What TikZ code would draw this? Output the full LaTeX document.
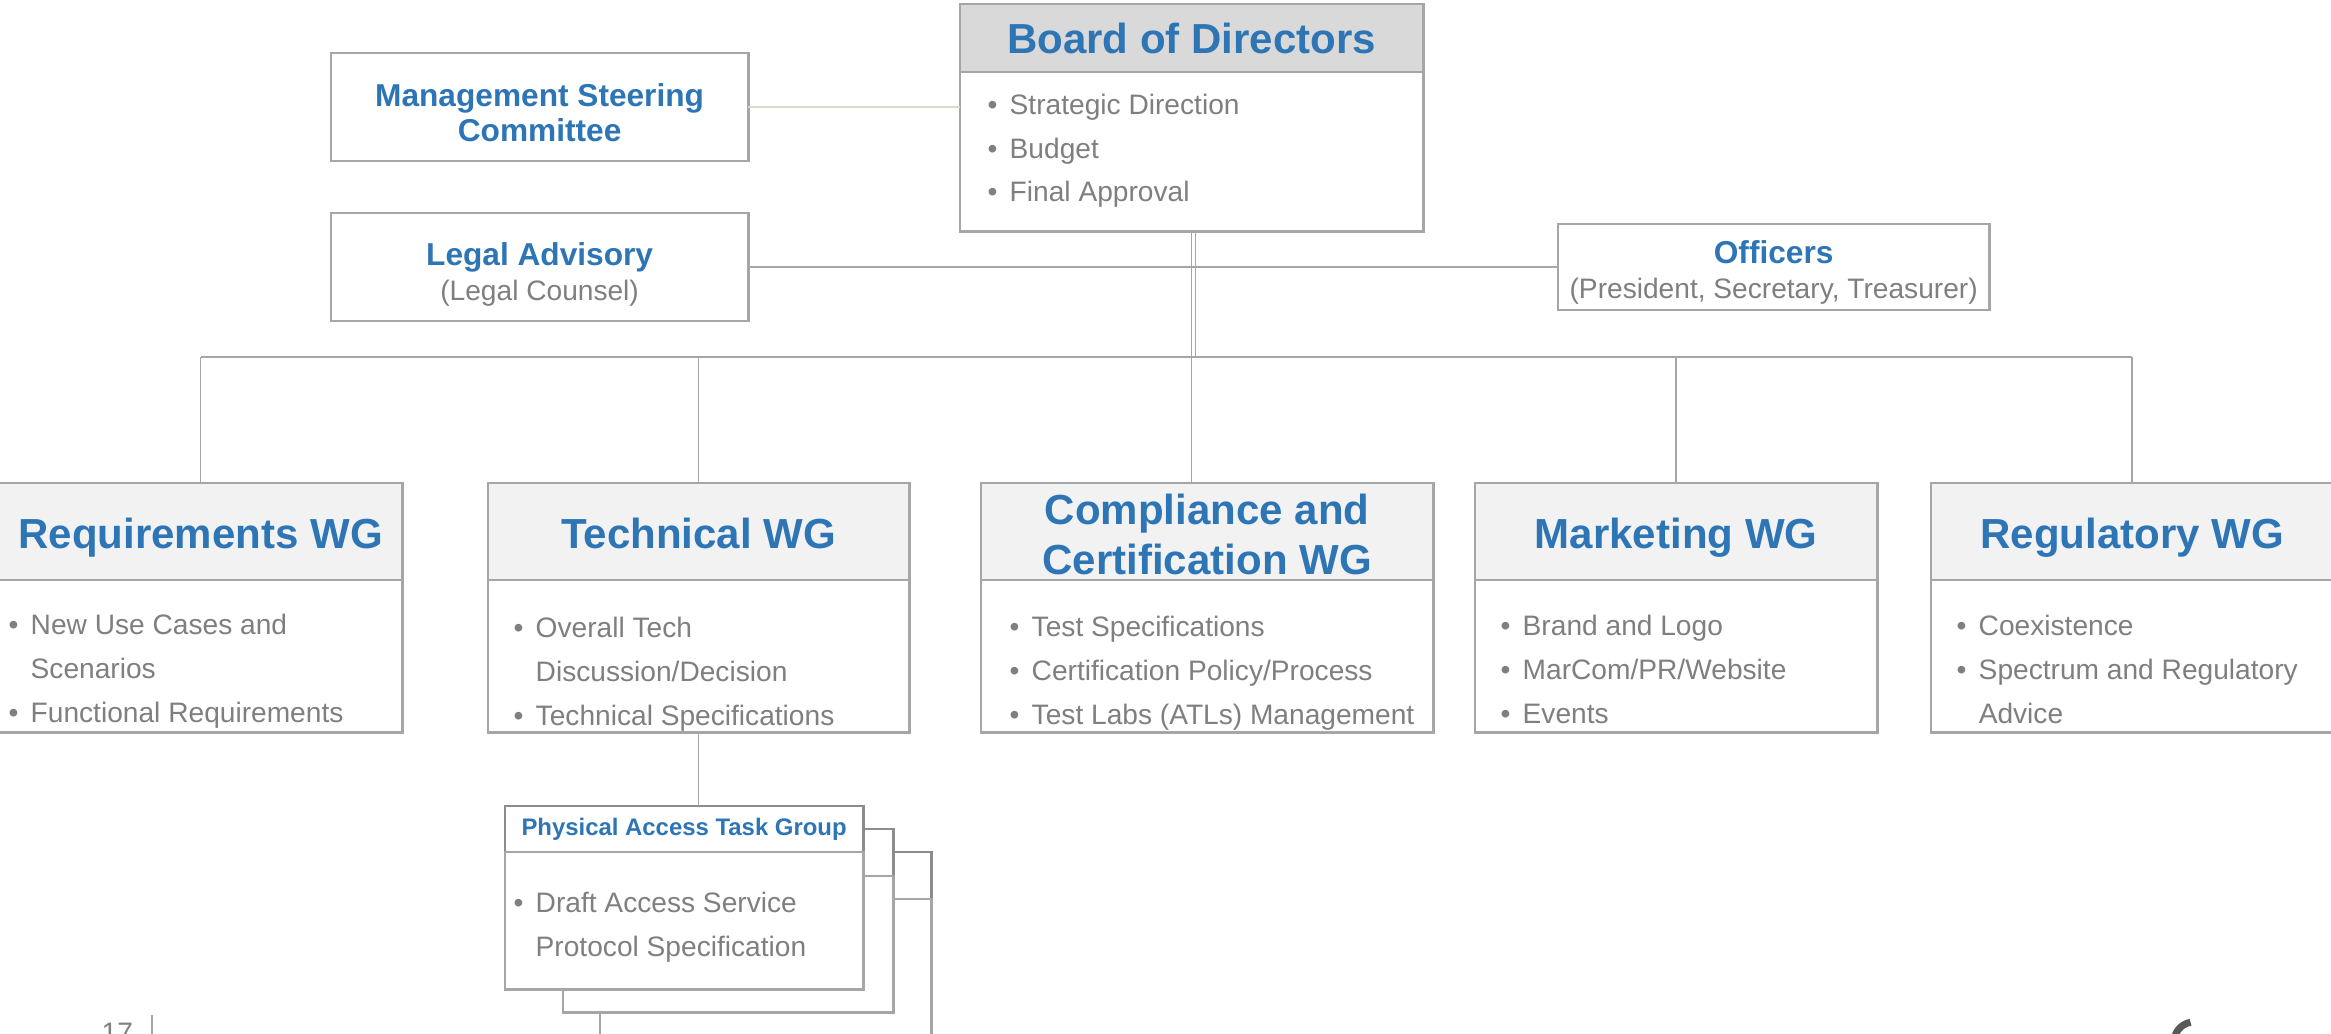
\documentclass[tikz,border=0pt]{standalone}
\usepackage{fontspec}
\setmainfont{Liberation Sans}
\usepackage{tikz}
\usetikzlibrary{positioning,calc}
\definecolor{orgblue}{HTML}{2E75B6}
\definecolor{orgtext}{HTML}{7F7F7F}
\definecolor{orgline}{HTML}{A6A6A6}
\definecolor{orgdark}{HTML}{8C8C8C}
\definecolor{orghead}{HTML}{F2F2F2}
\definecolor{orgtop}{HTML}{D9D9D9}
\definecolor{orgpale}{HTML}{D6DACB}
\definecolor{orglogo}{HTML}{595959}
\newcommand{\itm}{\makebox[0.22cm][l]{\textbullet}}
\newcommand{\cnt}{\hspace*{0.22cm}}
\newcommand{\subtxt}{\fontsize{8}{9.96}\selectfont\mdseries\color{orgtext}}
\newcommand{\lift}[1]{\rule{0pt}{#1}}
\newcommand{\wgstrut}{\rule[-2.6pt]{0pt}{14.7pt}}
\tikzset{
	org chart/.style={
		x=0.01cm, y=-0.01cm,
		conn/.style={draw=orgline, line width=0.45pt},
		box/.style={draw=orgline, line width=0.8pt, inner sep=0pt, outer sep=0pt},
		wg head/.style={box, fill=orghead, minimum height=0.97cm, text=orgblue, align=center,
			font=\fontsize{11.95}{14.23}\selectfont\bfseries},
		wg body/.style={box, fill=white, minimum height=1.52cm},
		lst/.style={anchor=base west, inner sep=0pt, text=orgtext, align=left,
			font=\fontsize{8}{12.38}\selectfont},
		side/.style={box, fill=white, minimum width=4.17cm, minimum height=1.08cm, align=center,
			text=orgblue, font=\fontsize{9}{9.96}\selectfont\bfseries},
		tg head/.style={box, draw=orgdark, fill=white, minimum height=0.47cm, text=orgblue,
			font=\fontsize{6.8}{8}\selectfont\bfseries},
		tg body/.style={box, fill=white}
	}
}

\begin{document}
\begin{tikzpicture}[org chart]
	\useasboundingbox (0,0) rectangle (2331,1034);
	\clip (0,0) rectangle (2331,1034);
	\fill[white] (0,0) rectangle (2331,1034);

	% top level
	\node[box, fill=orgtop, minimum width=4.63cm, minimum height=0.68cm, anchor=north west,
		text=orgblue, font=\fontsize{11.95}{14.2}\selectfont\bfseries] (boardH) at (960,4) {Board of Directors};
	\node[box, fill=white, minimum width=4.63cm, minimum height=1.59cm, below=0pt of boardH] (boardB) {};
	\node[lst] (boardL) at (987,202) {\itm Strategic Direction\\\itm Budget\\\itm Final Approval};

	\node[side, anchor=north west] (msc) at (331,53) {\lift{9.7pt}Management Steering\\Committee};
	\node[side, anchor=north west] (legal) at (331,213) {\lift{11pt}Legal Advisory\\{\subtxt (Legal Counsel)}};
	\node[side, minimum width=4.31cm, minimum height=0.86cm, anchor=north west] (officers) at (1558,224)
		{\lift{9.7pt}Officers\\{\subtxt (President, Secretary, Treasurer)}};

	% working groups
	\node[wg head, minimum width=4.03cm, anchor=north west] (reqH) at (-1,483) {\wgstrut Requirements WG};
	\node[wg body, minimum width=4.03cm, below=0pt of reqH] (reqB) {};
	\node[wg head, minimum width=4.21cm, anchor=north west] (techH) at (488,483) {\wgstrut Technical WG};
	\node[wg body, minimum width=4.21cm, below=0pt of techH] (techB) {};
	\node[wg head, minimum width=4.52cm, anchor=north west] (compH) at (981,483) {\lift{10.5pt}Compliance and\\Certification WG};
	\node[wg body, minimum width=4.52cm, below=0pt of compH] (compB) {};
	\node[wg head, minimum width=4.02cm, anchor=north west] (mktH) at (1475,483) {\wgstrut Marketing WG};
	\node[wg body, minimum width=4.02cm, below=0pt of mktH] (mktB) {};
	\node[wg head, minimum width=4.02cm, anchor=north west] (regH) at (1931,483) {\wgstrut Regulatory WG};
	\node[wg body, minimum width=4.02cm, below=0pt of regH] (regB) {};

	\node[lst] (reqL) at (8,722) {\itm New Use Cases and\\\cnt Scenarios\\\itm Functional Requirements};
	\node[lst] (techL) at (513,725) {\itm Overall Tech\\\cnt Discussion/Decision\\\itm Technical Specifications};
	\node[lst] (compL) at (1009,724) {\itm Test Specifications\\\itm Certification Policy/Process\\\itm Test Labs (ATLs) Management};
	\node[lst] (mktL) at (1500,723) {\itm Brand and Logo\\\itm MarCom/PR/Website\\\itm Events};
	\node[lst] (regL) at (1956,723) {\itm Coexistence\\\itm Spectrum and Regulatory\\\cnt Advice};

	% task group stack
	\node[tg head, minimum width=3.31cm, anchor=north west] (tg3H) at (600,852) {};
	\node[tg body, minimum width=3.31cm, minimum height=1.8cm, below=0pt of tg3H] (tg3B) {};
	\node[tg head, minimum width=3.30cm, anchor=north west] (tg2H) at (563,829) {};
	\node[tg body, minimum width=3.30cm, minimum height=1.36cm, below=0pt of tg2H] (tg2B) {};
	\node[tg head, minimum width=3.58cm, minimum height=0.46cm, anchor=north west] (tgH) at (505,806) {Physical Access Task Group};
	\node[tg body, minimum width=3.58cm, minimum height=1.37cm, below=0pt of tgH] (tgB) {};
	\node[lst] (tgL) at (513,956) {\itm Draft Access Service\\\cnt Protocol Specification};

	% connectors
	\coordinate (busL) at (201,357);
	\coordinate (busR) at (2132,357);
	\draw[conn, draw=orgpale] (msc.east) -- (msc.east -| boardH.west);
	\draw[conn] (legal.east) -- (officers.west);
	\draw[conn] (boardB.south) -- (boardB.south |- compH.north);
	\draw[conn] ([xshift=0.04cm]boardB.south) -- ([xshift=0.04cm]boardB.south |- busL);
	\draw[conn] (busL) -- (busR);
	\foreach \g in {reqH,techH,mktH,regH}
		\draw[conn] (\g.north) -- (\g.north |- busL);
	\draw[conn] (techB.south) -- (techB.south |- tgH.north);

	% slide footer
	\node[anchor=north west, inner sep=0pt, text=orgtext, font=\fontsize{8}{8}\selectfont] (pgno) at (101,1022) {17};
	\draw[conn] (152,1015) -- (152,1034);
	\draw[draw=orglogo, line width=0.07cm] (2174,1042) arc[start angle=180, end angle=260, radius=20];
\end{tikzpicture}
\end{document}
